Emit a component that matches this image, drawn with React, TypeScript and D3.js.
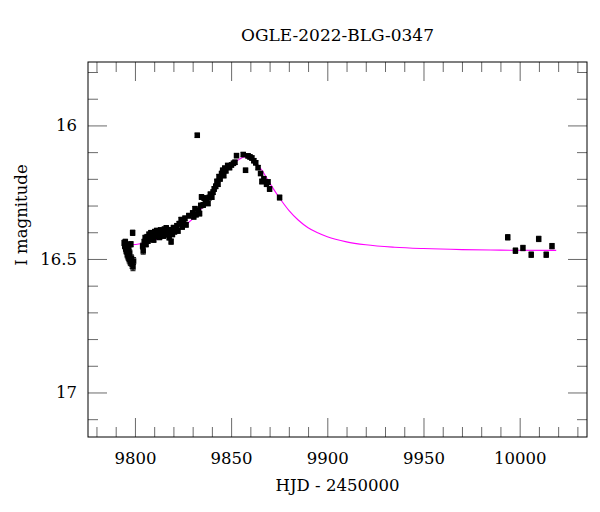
import * as d3 from 'd3';
import { useEffect, useRef } from 'react';

// observations (HJD - 2450000, I mag, error)
const obsHjd = [
  9794.4, 9794.7, 9795.0, 9795.2, 9795.5, 9795.7, 9796.0, 9796.2, 9796.5, 9796.8,
  9797.0, 9797.3, 9797.6, 9797.9, 9798.2, 9798.5, 9798.8, 9799.0, 9799.3,
  9804.0, 9804.3, 9804.8, 9805.3, 9805.8, 9806.3, 9806.8, 9807.3, 9807.8, 9808.3,
  9808.8, 9809.3, 9809.8, 9810.3, 9810.8, 9811.3, 9811.8, 9812.3, 9812.8, 9813.3,
  9813.8, 9814.3, 9814.8, 9815.3, 9815.8, 9816.3, 9816.8, 9817.3, 9817.8, 9818.3,
  9818.8, 9819.5, 9820.0, 9820.6, 9821.2, 9821.8, 9822.4, 9823.0,
  9824.0, 9824.6, 9825.3, 9826.0, 9826.6, 9828.0, 9830.0, 9830.6, 9831.2, 9831.8,
  9832.4, 9833.0, 9833.6, 9834.2, 9834.6, 9835.5, 9836.0, 9836.6, 9837.2, 9838.0,
  9838.6, 9839.2, 9840.0, 9840.6, 9841.2, 9842.0, 9842.6, 9843.2, 9843.7, 9844.3,
  9845.0, 9845.6, 9846.2, 9846.7, 9847.3, 9848.2, 9849.2, 9850.2, 9851.2, 9852.0,
  9852.8, 9856.3, 9857.5, 9858.8, 9859.8, 9860.8, 9861.8, 9862.8, 9864.0, 9865.3,
  9866.0, 9867.0, 9868.4, 9869.2, 9870.0, 9875.2,
  9993.8, 9997.8, 10001.7, 10006.0, 10009.9, 10013.8, 10016.8,
];
const obsMag = [
  16.44, 16.452, 16.436, 16.462, 16.471, 16.447, 16.484, 16.458, 16.493, 16.466,
  16.502, 16.478, 16.512, 16.445, 16.497, 16.521, 16.402, 16.53, 16.508,
  16.452, 16.47, 16.436, 16.421, 16.445, 16.418, 16.432, 16.408, 16.426, 16.402,
  16.421, 16.41, 16.428, 16.398, 16.416, 16.394, 16.409, 16.4, 16.419, 16.392,
  16.407, 16.398, 16.414, 16.389, 16.403, 16.384, 16.409, 16.399, 16.42, 16.391,
  16.435, 16.408, 16.383, 16.398, 16.388, 16.376, 16.395, 16.368,
  16.353, 16.38, 16.362, 16.348, 16.372, 16.338, 16.328, 16.342, 16.312, 16.334,
  16.037, 16.318, 16.33, 16.3, 16.268, 16.298, 16.272, 16.29, 16.28, 16.292,
  16.27, 16.258, 16.268, 16.25, 16.238, 16.228, 16.21, 16.22, 16.192, 16.2,
  16.18, 16.168, 16.188, 16.16, 16.17, 16.15, 16.158, 16.148, 16.142, 16.138,
  16.113, 16.109, 16.168, 16.114, 16.118, 16.122, 16.132, 16.14, 16.158, 16.18,
  16.21, 16.2, 16.22, 16.212, 16.238, 16.27,
  16.419, 16.469, 16.459, 16.484, 16.425, 16.484, 16.452,
];
const obsErr = [
  0.01, 0.01, 0.01, 0.011, 0.011, 0.01, 0.012, 0.011, 0.012, 0.011,
  0.013, 0.012, 0.013, 0.01, 0.012, 0.014, 0.01, 0.014, 0.013,
  0.011, 0.012, 0.01, 0.01, 0.01, 0.01, 0.01, 0.009, 0.01, 0.009,
  0.01, 0.009, 0.01, 0.009, 0.009, 0.009, 0.009, 0.009, 0.009, 0.009,
  0.009, 0.009, 0.009, 0.009, 0.009, 0.009, 0.009, 0.009, 0.009, 0.009,
  0.01, 0.009, 0.009, 0.009, 0.009, 0.009, 0.009, 0.009,
  0.009, 0.009, 0.009, 0.009, 0.009, 0.009, 0.009, 0.009, 0.009, 0.009,
  0.008, 0.009, 0.009, 0.009, 0.009, 0.009, 0.009, 0.009, 0.009, 0.009,
  0.009, 0.009, 0.009, 0.009, 0.009, 0.009, 0.009, 0.009, 0.009, 0.009,
  0.008, 0.008, 0.008, 0.008, 0.008, 0.008, 0.008, 0.008, 0.008, 0.008,
  0.008, 0.008, 0.008, 0.008, 0.008, 0.008, 0.008, 0.008, 0.008, 0.008,
  0.009, 0.009, 0.009, 0.009, 0.009, 0.009,
  0.01, 0.01, 0.01, 0.01, 0.01, 0.01, 0.01,
];

// model light curve
const modelHjd = [
  9794, 9800, 9805, 9810, 9815, 9820, 9825, 9830, 9835, 9840, 9845, 9850, 9854,
  9857, 9860, 9863, 9866, 9870, 9875, 9880, 9885, 9890, 9895, 9900, 9910, 9920,
  9935, 9950, 9970, 9990, 10019,
];
const modelMag = [
  16.452, 16.446, 16.44, 16.43, 16.418, 16.402, 16.38, 16.35, 16.308, 16.255,
  16.198, 16.152, 16.128, 16.118, 16.122, 16.14, 16.168, 16.215, 16.27, 16.318,
  16.355, 16.383, 16.402, 16.417, 16.436, 16.447, 16.456, 16.461, 16.465,
  16.467, 16.468,
];

const xMajor = [9800, 9850, 9900, 9950, 10000];
const xMinor = d3.range(9780, 10040, 10).filter((v) => v % 50 !== 0);
const yMajor = [16, 16.5, 17];
const yMinor = [15.8, 15.9, 16.1, 16.2, 16.3, 16.4, 16.6, 16.7, 16.8, 16.9, 17.1];

const title = 'OGLE-2022-BLG-0347';
const xLabel = 'HJD - 2450000';
const yLabel = 'I magnitude';

const W = 600;
const H = 512;
const margin = { top: 62, right: 13, bottom: 75, left: 88 };
const FONT = '"DejaVu Serif", serif';
const MS = 5.5; // marker size

function App() {
  const svgRef = useRef<SVGSVGElement>(null);

  useEffect(() => {
    if (!svgRef.current) return;
    const svg = d3.select(svgRef.current);
    svg.selectAll('*').remove();

    const iw = W - margin.left - margin.right;
    const ih = H - margin.top - margin.bottom;

    const x = d3.scaleLinear().domain([9775.6, 10035]).range([0, iw]);
    const y = d3.scaleLinear().domain([15.7625, 17.1667]).range([0, ih]);

    const g = svg
      .append('g')
      .attr('transform', `translate(${margin.left},${margin.top})`);

    const tickColor = '#6a6a6a';
    const styleAxis = (sel: d3.Selection<SVGGElement, unknown, null, undefined>) => {
      sel.select('.domain').remove();
      sel.selectAll('line').attr('stroke', tickColor);
      sel
        .selectAll('text')
        .attr('fill', '#000')
        .style('font-family', FONT)
        .style('font-size', '16.5px');
    };

    // bottom
    g.append('g')
      .attr('transform', `translate(0,${ih})`)
      .call(
        d3.axisBottom(x).tickValues(xMajor).tickSizeInner(-19).tickSizeOuter(0)
          .tickPadding(15).tickFormat(d3.format('d'))
      )
      .call(styleAxis);
    g.append('g')
      .attr('transform', `translate(0,${ih})`)
      .call(d3.axisBottom(x).tickValues(xMinor).tickSizeInner(-10).tickSizeOuter(0).tickFormat(() => ''))
      .call(styleAxis);
    // top
    g.append('g')
      .call(d3.axisTop(x).tickValues(xMajor).tickSizeInner(-19).tickSizeOuter(0).tickFormat(() => ''))
      .call(styleAxis);
    g.append('g')
      .call(d3.axisTop(x).tickValues(xMinor).tickSizeInner(-10).tickSizeOuter(0).tickFormat(() => ''))
      .call(styleAxis);
    // left
    g.append('g')
      .call(
        d3.axisLeft(y).tickValues(yMajor).tickSizeInner(-19).tickSizeOuter(0)
          .tickPadding(11).tickFormat((d) => String(d))
      )
      .call(styleAxis);
    g.append('g')
      .call(d3.axisLeft(y).tickValues(yMinor).tickSizeInner(-10).tickSizeOuter(0).tickFormat(() => ''))
      .call(styleAxis);
    // right
    g.append('g')
      .attr('transform', `translate(${iw},0)`)
      .call(d3.axisRight(y).tickValues(yMajor).tickSizeInner(-19).tickSizeOuter(0).tickFormat(() => ''))
      .call(styleAxis);
    g.append('g')
      .attr('transform', `translate(${iw},0)`)
      .call(d3.axisRight(y).tickValues(yMinor).tickSizeInner(-10).tickSizeOuter(0).tickFormat(() => ''))
      .call(styleAxis);

    // frame
    g.append('rect')
      .attr('x', 0)
      .attr('y', 0)
      .attr('width', iw)
      .attr('height', ih)
      .attr('fill', 'none')
      .attr('stroke', '#000')
      .attr('stroke-width', 1);

    // model
    const line = d3
      .line<number>()
      .x((d) => x(modelHjd[d]))
      .y((d) => y(modelMag[d]))
      .curve(d3.curveMonotoneX);
    g.append('path')
      .datum(d3.range(modelHjd.length))
      .attr('fill', 'none')
      .attr('stroke', '#ff00ff')
      .attr('stroke-width', 1.1)
      .attr('d', line);

    // observations
    const idx = d3.range(obsHjd.length);
    const pts = g.append('g');
    pts
      .selectAll('line.err')
      .data(idx)
      .join('line')
      .attr('class', 'err')
      .attr('x1', (i) => x(obsHjd[i]))
      .attr('x2', (i) => x(obsHjd[i]))
      .attr('y1', (i) => y(obsMag[i] - obsErr[i]))
      .attr('y2', (i) => y(obsMag[i] + obsErr[i]))
      .attr('stroke', '#000')
      .attr('stroke-width', 1);
    pts
      .selectAll('line.cap')
      .data(idx.flatMap((i) => [[i, 1], [i, -1]]))
      .join('line')
      .attr('class', 'cap')
      .attr('x1', ([i]) => x(obsHjd[i]) - 2.5)
      .attr('x2', ([i]) => x(obsHjd[i]) + 2.5)
      .attr('y1', ([i, s]) => y(obsMag[i] + s * obsErr[i]))
      .attr('y2', ([i, s]) => y(obsMag[i] + s * obsErr[i]))
      .attr('stroke', '#000')
      .attr('stroke-width', 1);
    pts
      .selectAll('rect')
      .data(idx)
      .join('rect')
      .attr('x', (i) => x(obsHjd[i]) - MS / 2)
      .attr('y', (i) => y(obsMag[i]) - MS / 2)
      .attr('width', MS)
      .attr('height', MS)
      .attr('fill', '#000');

    // labels
    svg.append('text')
      .attr('x', margin.left + iw / 2)
      .attr('y', 41)
      .attr('text-anchor', 'middle')
      .style('font-family', FONT)
      .style('font-size', '17px')
      .text(title);
    svg.append('text')
      .attr('x', margin.left + iw / 2)
      .attr('y', 491)
      .attr('text-anchor', 'middle')
      .style('font-family', FONT)
      .style('font-size', '16.5px')
      .text(xLabel);
    svg.append('text')
      .attr('transform', `translate(27,215) rotate(-90)`)
      .attr('text-anchor', 'middle')
      .style('font-family', FONT)
      .style('font-size', '16.5px')
      .text(yLabel);
  }, []);

  return (
    <div style={{ position: 'absolute', left: 0, top: 0, width: W, height: H, background: '#fff' }}>
      <svg ref={svgRef} width={W} height={H} />
    </div>
  );
}

export default App;
